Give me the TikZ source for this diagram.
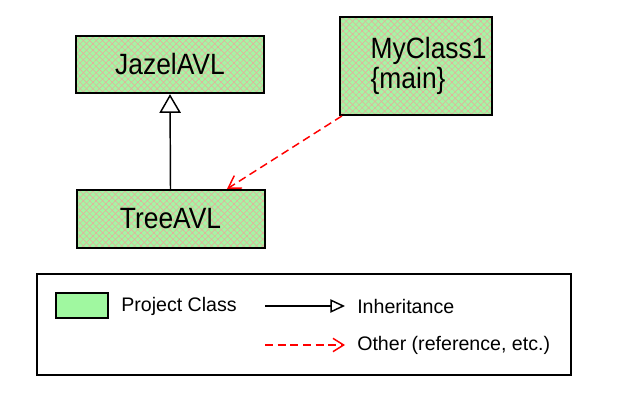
\documentclass[tikz,border=0pt]{standalone}
\usepackage{fontspec}
\setmainfont{Liberation Sans}
\newfontfamily\classfont[FakeStretch=0.9]{Liberation Sans}
\usepackage{xcolor}
\usetikzlibrary{arrows.meta,patterns.meta}
\definecolor{classgreen}{RGB}{165,245,165}
\definecolor{swatchgreen}{RGB}{160,248,160}
\definecolor{hatchred}{RGB}{238,165,155}

\tikzset{
  classbox/.style={draw, line width=1.5pt,
    preaction={fill=classgreen},
    preaction={pattern={Lines[angle=45,distance=3.4pt,line width=0.35pt]}, pattern color=hatchred},
    preaction={pattern={Lines[angle=-45,distance=3.4pt,line width=0.35pt]}, pattern color=hatchred},
    font=\classfont\fontsize{22}{22.5}\selectfont},
  inherit/.style={line width=1.1pt, -{Triangle[open,length=14pt,width=16pt]}},
  other/.style={red, line width=1.1pt, dash pattern=on 6pt off 3.5pt,
    -{Straight Barb[length=9pt,width=11pt]}},
  legendtext/.style={font=\fontsize{14.7}{18}\selectfont, anchor=west, inner sep=3pt}
}

\begin{document}
\begin{tikzpicture}[x=0.75pt,y=-0.75pt]
  \useasboundingbox (0,0) rectangle (633,406);
  % classes
  \node[classbox, minimum width=141pt, minimum height=43pt] (jazel) at (170,64.5) {JazelAVL};
  \node[classbox, minimum width=141pt, minimum height=43.5pt] (tree) at (170.5,219) {TreeAVL};
  \node[classbox, text width=68pt, inner xsep=23pt, minimum height=73.5pt, align=left] (myclass) at (416,66) {MyClass1\\\{main\}};
  % relations
  \draw[inherit] (tree.north) -- (jazel.south);
  \draw[other] (myclass.214) -- (tree.28);
  % legend
  \node[draw, line width=1.5pt, minimum width=400.5pt, minimum height=75.75pt] (legend) at (304,324.5) {};
  \node[draw, line width=1.5pt, fill=swatchgreen, minimum width=39pt, minimum height=18.75pt] (swatch) at (82,305.5) {};
  \node[legendtext] (projlabel) at (117,306) {Project Class};
  \node[legendtext] (inhlabel) at (353,306) {Inheritance};
  \node[legendtext] (otherlabel) at (353,345) {Other (reference, etc.)};
  \coordinate (inhstart) at (265,306);
  \coordinate (otherstart) at (265,345);
  \draw[inherit, -{Triangle[open,length=11pt,width=10pt]}, shorten >=6pt] (inhstart) -- (inhlabel.west);
  \draw[other, -{Straight Barb[length=8pt,width=10pt]}, shorten >=6pt] (otherstart) -- (otherlabel.west);
\end{tikzpicture}
\end{document}
